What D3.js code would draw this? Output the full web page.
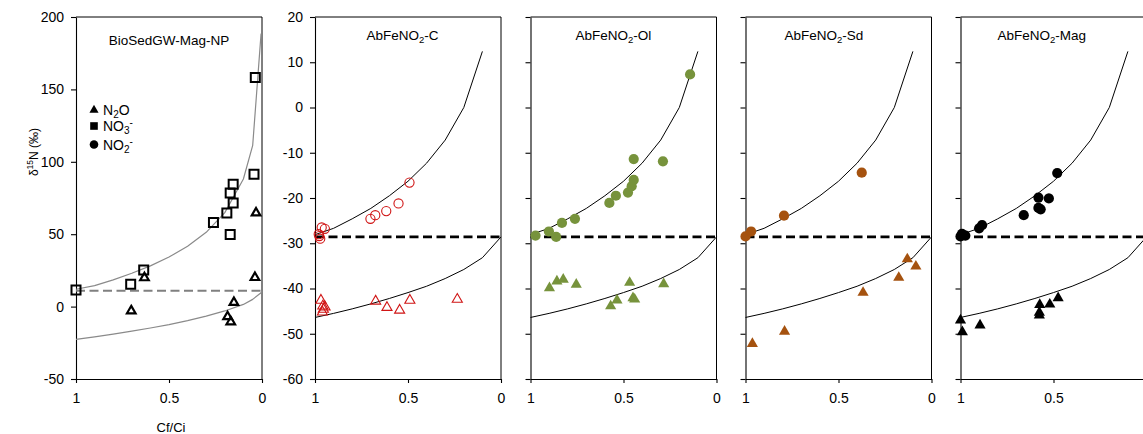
<!DOCTYPE html>
<html>
<head>
<meta charset="utf-8">
<script src="https://cdn.jsdelivr.net/npm/d3@7"></script>
<style>
  body { margin: 0; background: #fff; }
  text { font-family: "Liberation Sans", Arial, sans-serif; fill: #000; }
</style>
</head>
<body>
<svg id="chart" width="1143" height="434"></svg>
<script>
// x axis: remaining fraction Cf/Ci (1 -> 0)
const fracTicks = [1, 0.5, 0];
const bioTicks = [-50, 0, 50, 100, 150, 200];
const abTicks = [-60, -50, -40, -30, -20, -10, 0, 10, 20];

// Panel titles: [text, subscript, text]
const titles = [
  ["BioSedGW-Mag-NP", "", ""],
  ["AbFeNO", "2", "-C"],
  ["AbFeNO", "2", "-Ol"],
  ["AbFeNO", "2", "-Sd"],
  ["AbFeNO", "2", "-Mag"]
];

// BioSedGW-Mag-NP: [Cf/Ci, d15N]
const bioNO3 = [[1.0, 11.5], [0.706, 15.5], [0.636, 25.2], [0.261, 58.1], [0.189, 64.7],
  [0.155, 71.6], [0.171, 78.5], [0.155, 84.5], [0.171, 49.8], [0.036, 158.2], [0.043, 91.4]];
const bioN2O = [[0.703, -2.9], [0.632, 19.9], [0.032, 64.7], [0.038, 20.1], [0.151, 2.9],
  [0.185, -7.0], [0.168, -10.5]];
const bioInitial = 11;
const bioCurveF = [1, 0.9, 0.8, 0.7, 0.6, 0.5, 0.4, 0.3, 0.2, 0.1, 0.05, 0.005];
const bioSubstrate = [12, 14.5, 18.5, 23.0, 28.1, 34.2, 41.7, 51.3, 64.9, 88.1, 111.4, 188.5];
const bioProductF = [1, 0.9, 0.8, 0.7, 0.6, 0.5, 0.4, 0.3, 0.2, 0.1, 0.05, 0.005, 0];
const bioProduct = [-22.6, -20.9, -19.0, -17.0, -14.8, -12.4, -9.7, -6.6, -3.0, 1.5, 5.0, 9.6, 11];

// AbFeNO2 experiments: nitrite (NO2-) and N2O
const cNO2 = [[0.977, -28.4], [0.972, -29.0], [0.980, -28.0], [0.964, -26.5], [0.947, -26.8],
  [0.702, -24.6], [0.676, -23.8], [0.617, -22.9], [0.551, -21.2], [0.492, -16.6]];
const cN2O = [[0.968, -42.6], [0.958, -43.9], [0.946, -44.1], [0.960, -45.2], [0.955, -44.6],
  [0.674, -42.8], [0.613, -44.2], [0.545, -44.8], [0.490, -42.6], [0.235, -42.4]];

const olNO2 = [[0.973, -28.3], [0.901, -27.4], [0.862, -28.6], [0.831, -25.5], [0.761, -24.6],
  [0.576, -21.1], [0.541, -19.5], [0.476, -18.8], [0.456, -17.4], [0.445, -16.0],
  [0.445, -11.4], [0.288, -11.9], [0.142, 7.3]];
const olN2O = [[0.898, -39.9], [0.858, -38.4], [0.824, -38.0], [0.754, -39.1], [0.467, -38.7],
  [0.284, -39.0], [0.569, -43.9], [0.535, -42.6], [0.449, -42.1], [0.440, -42.4]];

const sdNO2 = [[1.0, -28.5], [0.970, -27.4], [0.793, -23.9], [0.375, -14.4]];
const sdN2O = [[0.963, -52.2], [0.790, -49.5], [0.368, -40.9], [0.176, -37.6], [0.130, -33.5],
  [0.084, -35.1]];

const magNO2 = [[1.0, -28.5], [0.992, -27.9], [0.974, -28.3], [0.900, -26.7], [0.884, -26.0],
  [0.660, -23.8], [0.581, -19.9], [0.581, -22.2], [0.569, -22.5], [0.525, -20.1], [0.480, -14.5]];
const magN2O = [[1.0, -47.0], [0.990, -49.6], [0.895, -48.1], [0.576, -45.9], [0.576, -45.3],
  [0.574, -43.6], [0.520, -43.5], [0.475, -42.1]];

// Rayleigh model lines shared by the AbFeNO2 panels
const abInitial = -28.6;
const abCurveF = [1, 0.9, 0.8, 0.7, 0.6, 0.5, 0.4, 0.3, 0.2, 0.1];
const abSubstrate = [-28.1, -26.7, -24.6, -22.3, -19.5, -16.3, -12.3, -7.2, 0.0, 12.4];
const abProductF = [1, 0.9, 0.8, 0.7, 0.6, 0.5, 0.4, 0.3, 0.2, 0.1, 0];
const abProduct = [-46.4, -45.5, -44.5, -43.4, -42.2, -40.9, -39.5, -37.8, -35.8, -33.2, -28.6];

// Legend entries
const legendLabels = [["N", "2", "O", ""], ["NO", "3", "", "-"], ["NO", "2", "", "-"]];

const zip = (xs, ys) => xs.map((x, i) => [x, ys[i]]);

const panels = [
  { left: 76, domain: [-50, 200], ticks: bioTicks, labels: true, titleX: 169, titleY: 45,
    curveColor: "#8a8a8a", curveWidth: 1.2, dashColor: "#808080", dashWidth: 2,
    initial: bioInitial, upper: zip(bioCurveF, bioSubstrate), lower: zip(bioProductF, bioProduct),
    series: [
      { data: bioNO3, shape: d3.symbolSquare, size: 81, fill: "none", stroke: "#000", sw: 2 },
      { data: bioN2O, shape: d3.symbolTriangle, size: 32, fill: "none", stroke: "#000", sw: 2.2 }
    ] },
  { left: 315, domain: [-60, 20], ticks: abTicks, labels: true, titleX: 402.5, titleY: 40,
    series: [
      { data: cNO2, shape: d3.symbolCircle, size: 66, fill: "none", stroke: "#d01515", sw: 1.1 },
      { data: cN2O, shape: d3.symbolTriangle, size: 44, fill: "none", stroke: "#d01515", sw: 1.1 }
    ] },
  { left: 530.5, domain: [-60, 20], ticks: abTicks, labels: false, titleX: 613.3, titleY: 40,
    series: [
      { data: olNO2, shape: d3.symbolCircle, size: 82, fill: "#77933c", stroke: "none", sw: 0 },
      { data: olN2O, shape: d3.symbolTriangle, size: 54, fill: "#77933c", stroke: "none", sw: 0 }
    ] },
  { left: 745.5, domain: [-60, 20], ticks: abTicks, labels: false, titleX: 823.8, titleY: 40,
    series: [
      { data: sdNO2, shape: d3.symbolCircle, size: 82, fill: "#a5520f", stroke: "none", sw: 0 },
      { data: sdN2O, shape: d3.symbolTriangle, size: 54, fill: "#a5520f", stroke: "none", sw: 0 }
    ] },
  { left: 960.5, domain: [-60, 20], ticks: abTicks, labels: false, titleX: 1041.7, titleY: 40,
    series: [
      { data: magNO2, shape: d3.symbolCircle, size: 82, fill: "#000", stroke: "none", sw: 0 },
      { data: magN2O, shape: d3.symbolTriangle, size: 54, fill: "#000", stroke: "none", sw: 0 }
    ] }
];
panels.slice(1).forEach(p => Object.assign(p, {
  curveColor: "#000", curveWidth: 1, dashColor: "#000", dashWidth: 2.6,
  initial: abInitial, upper: zip(abCurveF, abSubstrate), lower: zip(abProductF, abProduct)
}));

const svg = d3.select("#chart");
svg.append("rect").attr("width", 1143).attr("height", 434).attr("fill", "#fff");

const plotTop = 17, plotBottom = 379, plotWidth = 186;

panels.forEach((p, i) => {
  const x = d3.scaleLinear().domain([1, 0]).range([p.left, p.left + plotWidth]);
  const y = d3.scaleLinear().domain(p.domain).range([plotBottom, plotTop]);
  const g = svg.append("g");

  // frame (top and right edges)
  g.append("path")
    .attr("d", `M${x(1)},${y(p.domain[1])}H${x(0)}V${y(p.domain[0])}`)
    .attr("fill", "none").attr("stroke", "#000").attr("stroke-width", 1);

  // axes (plain hyphen for negative values)
  const yAxis = d3.axisLeft(y).tickValues(p.ticks).tickSize(5).tickSizeOuter(0).tickPadding(7)
    .tickFormat(p.labels ? d => String(d) : () => "");
  const xAxis = d3.axisBottom(x).tickValues(fracTicks).tickSize(4).tickSizeOuter(0).tickPadding(10)
    .tickFormat(d => String(d));
  [g.append("g").attr("transform", `translate(${x(1)},0)`).call(yAxis),
   g.append("g").attr("transform", `translate(0,${plotBottom})`).call(xAxis)]
    .forEach(a => {
      a.selectAll("path, line").attr("stroke", "#000").attr("stroke-width", 1.1);
      a.selectAll("text").attr("font-size", 14).attr("fill", "#000")
        .style("font-family", '"Liberation Sans", Arial, sans-serif');
    });

  // initial value (dashed) and model lines
  const line = d3.line().x(d => x(d[0])).y(d => y(d[1]));
  g.append("path").attr("d", line([[1, p.initial], [0, p.initial]]))
    .attr("fill", "none").attr("stroke", p.dashColor).attr("stroke-width", p.dashWidth)
    .attr("stroke-dasharray", "9,4.5");
  [p.upper, p.lower].forEach(c => g.append("path").attr("d", line(c))
    .attr("fill", "none").attr("stroke", p.curveColor).attr("stroke-width", p.curveWidth)
    .attr("stroke-linejoin", "round"));

  // measured points
  p.series.forEach(s => {
    g.selectAll(null).data(s.data).enter().append("path")
      .attr("d", d3.symbol().type(s.shape).size(s.size))
      .attr("transform", d => `translate(${x(d[0])},${y(d[1])})`)
      .attr("fill", s.fill).attr("stroke", s.stroke).attr("stroke-width", s.sw);
  });

  // title
  const t = titles[i];
  const tt = g.append("text").attr("x", p.titleX).attr("y", p.titleY)
    .attr("text-anchor", "middle").attr("font-size", 13.5);
  tt.append("tspan").text(t[0]);
  if (t[1]) {
    tt.append("tspan").attr("font-size", 9.5).attr("dy", 3).text(t[1]);
    tt.append("tspan").attr("dy", -3).text(t[2]);
  }
});

// legend in the first panel
const legendShapes = [d3.symbolTriangle, d3.symbolSquare, d3.symbolCircle];
const legendSizes = [36, 58, 58];
const legendY = [110, 126, 144.5];
legendLabels.forEach((lab, i) => {
  svg.append("path").attr("d", d3.symbol().type(legendShapes[i]).size(legendSizes[i]))
    .attr("transform", `translate(94,${legendY[i]})`).attr("fill", "#000");
  const t = svg.append("text").attr("x", 103).attr("y", legendY[i] + 5).attr("font-size", 14);
  t.append("tspan").text(lab[0]);
  t.append("tspan").attr("font-size", 10).attr("dy", 3).text(lab[1]);
  if (lab[2]) t.append("tspan").attr("dy", -3).text(lab[2]);
  if (lab[3]) t.append("tspan").attr("font-size", 10).attr("dy", -8).text(lab[3]);
});

// axis titles
const yTitle = svg.append("text").attr("transform", "translate(38,152) rotate(-90)")
  .attr("text-anchor", "middle").attr("font-size", 12);
yTitle.append("tspan").text("\u03B4");
yTitle.append("tspan").attr("font-size", 8.5).attr("dy", -5).text("15");
yTitle.append("tspan").attr("dy", 5).text("N (\u2030)");

svg.append("text").attr("x", 171).attr("y", 432).attr("text-anchor", "middle")
  .attr("font-size", 13).text("Cf/Ci");
</script>
</body>
</html>
